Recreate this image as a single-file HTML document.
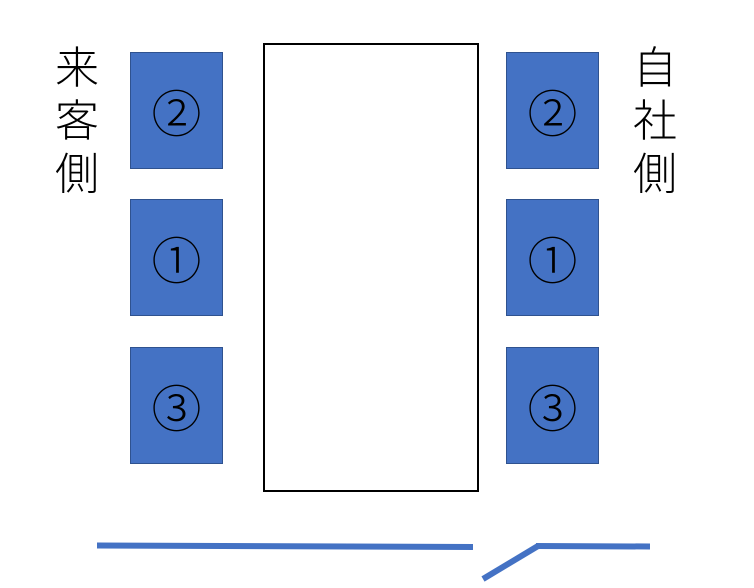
<!DOCTYPE html>
<html><head><meta charset="utf-8"><style>
body{margin:0;width:754px;height:588px;background:#fff;position:relative;overflow:hidden;font-family:"Liberation Sans","Noto Sans CJK JP",sans-serif}
.b{position:absolute;width:93px;height:117px;background:#4472c4;border:1px solid #2f528f;box-sizing:border-box;display:flex;align-items:center;justify-content:center;font-size:50px;font-weight:300;color:#000;font-family:"Noto Sans CJK JP",sans-serif;line-height:1}
.c{position:absolute;font-size:44px;font-weight:300;line-height:1;color:#000;font-family:"Noto Sans CJK JP",sans-serif;width:48px;text-align:center}
</style></head><body>
<div class="c" style="left:53px;top:42px">来</div>
<div class="c" style="left:53px;top:95px">客</div>
<div class="c" style="left:53px;top:148px">側</div>
<div class="c" style="left:631px;top:42px">自</div>
<div class="c" style="left:631px;top:95px">社</div>
<div class="c" style="left:631px;top:148px">側</div>
<div class="b" style="left:130px;top:52px">②</div>
<div class="b" style="left:130px;top:199px">①</div>
<div class="b" style="left:130px;top:347px">③</div>
<div class="b" style="left:506px;top:52px">②</div>
<div class="b" style="left:506px;top:199px">①</div>
<div class="b" style="left:506px;top:347px">③</div>
<div style="position:absolute;left:263px;top:43px;width:216px;height:449px;border:2px solid #000;box-sizing:border-box"></div>
<svg width="754" height="588" style="position:absolute;left:0;top:0">
<g stroke="#4472c4" stroke-width="6" fill="none">
<line x1="97" y1="545.5" x2="473" y2="547"/>
<line x1="483" y1="579" x2="538" y2="546"/>
<line x1="536" y1="546" x2="650" y2="546.5"/>
</g></svg>
</body></html>
